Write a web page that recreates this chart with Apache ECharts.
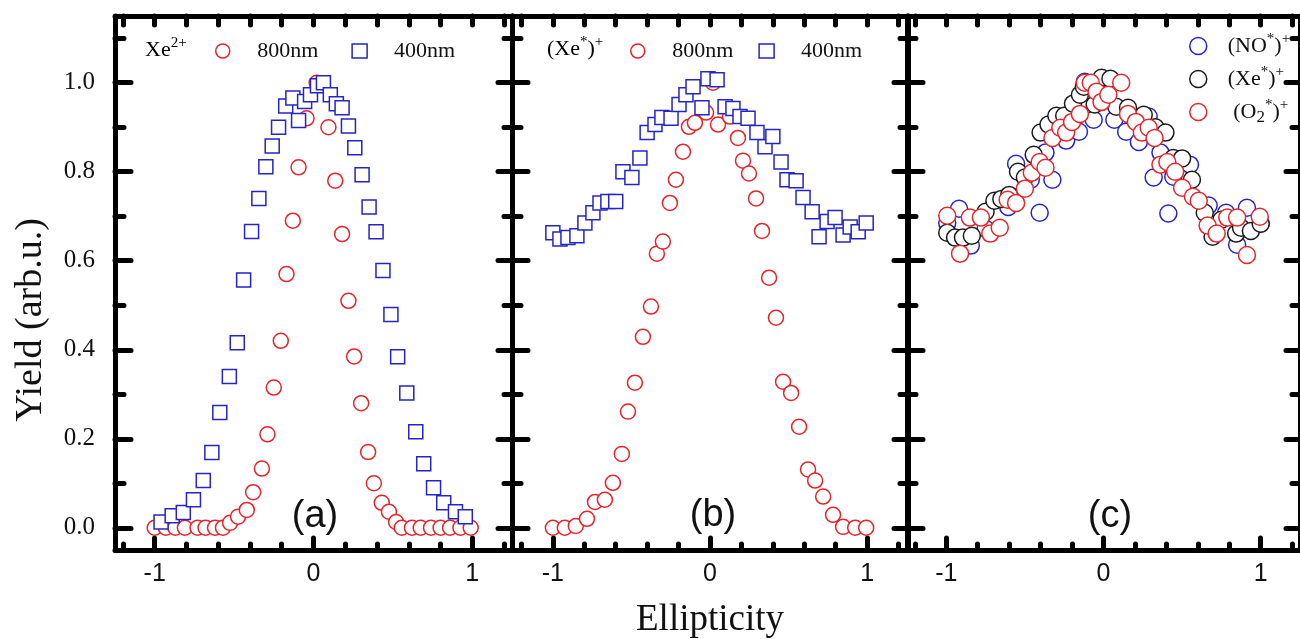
<!DOCTYPE html>
<html>
<head>
<meta charset="utf-8">
<title>Yield vs ellipticity</title>
<script src="https://cdn.jsdelivr.net/npm/echarts@6/dist/echarts.min.js"></script>
<style>
    html, body { margin: 0; padding: 0; background: #fff; }
    #chart { width: 1300px; height: 639px; }
</style>
</head>
<body>
<div id="chart"></div>
<script>
    // tick values
    var xMajorTicks = [-1, 0, 1];
    var xMinorTicks = [-1.2, -0.8, -0.6, -0.4, -0.2, 0.2, 0.4, 0.6, 0.8, 1.2];
    var xTopTicks = [-1.2, -1, -0.8, -0.6, -0.4, -0.2, 0, 0.2, 0.4, 0.6, 0.8, 1, 1.2];
    var yMajorTicks = [0, 0.2, 0.4, 0.6, 0.8, 1.0];
    var yMinorTicks = [0.1, 0.3, 0.5, 0.7, 0.9, 1.1];

    // (a) Xe2+
    var aRed800 = [[-1.0, 0], [-0.93, 0], [-0.87, 0], [-0.81, 0], [-0.73, 0], [-0.68, 0], [-0.62, 0], [-0.57, 0],
        [-0.525, 0.011], [-0.475, 0.025], [-0.42, 0.04], [-0.38, 0.08], [-0.325, 0.133], [-0.29, 0.21],
        [-0.25, 0.315], [-0.206, 0.42], [-0.17, 0.57], [-0.13, 0.69], [-0.094, 0.81], [-0.044, 0.92],
        [0.02, 1.0], [0.094, 0.90], [0.137, 0.78], [0.18, 0.66], [0.22, 0.51], [0.256, 0.385], [0.30, 0.28],
        [0.344, 0.17], [0.38, 0.10], [0.43, 0.056], [0.475, 0.036], [0.52, 0.013], [0.556, 0], [0.62, 0],
        [0.675, 0], [0.74, 0], [0.80, 0], [0.86, 0], [0.925, 0], [0.99, 0]];
    var aBlue400 = [[-0.96, 0.013], [-0.89, 0.027], [-0.82, 0.034], [-0.756, 0.063], [-0.694, 0.106],
        [-0.64, 0.169], [-0.59, 0.259], [-0.53, 0.34], [-0.48, 0.416], [-0.44, 0.557], [-0.39, 0.666],
        [-0.344, 0.74], [-0.30, 0.811], [-0.26, 0.858], [-0.22, 0.90], [-0.175, 0.948], [-0.13, 0.966],
        [-0.094, 0.915], [-0.056, 0.958], [-0.019, 0.973], [0.025, 0.993], [0.0625, 1.0], [0.106, 0.973],
        [0.144, 0.953], [0.18, 0.944], [0.22, 0.903], [0.26, 0.854], [0.306, 0.793], [0.35, 0.721],
        [0.394, 0.665], [0.4375, 0.578], [0.4875, 0.479], [0.53, 0.384], [0.5875, 0.303], [0.644, 0.216],
        [0.694, 0.144], [0.756, 0.09], [0.82, 0.056], [0.894, 0.036], [0.956, 0.025]];

    // (b) (Xe*)+
    var bRed800 = [[-1.0, 0], [-0.924, 0], [-0.854, 0.004], [-0.783, 0.02], [-0.732, 0.058], [-0.669, 0.063],
        [-0.618, 0.101], [-0.561, 0.166], [-0.522, 0.261], [-0.478, 0.326], [-0.427, 0.429], [-0.376, 0.497],
        [-0.338, 0.616], [-0.30, 0.643], [-0.255, 0.73], [-0.217, 0.782], [-0.172, 0.845], [-0.134, 0.901],
        [-0.096, 0.91], [-0.025, 0.933], [0.019, 1.0], [0.051, 0.906], [0.127, 0.924], [0.178, 0.876],
        [0.21, 0.825], [0.248, 0.796], [0.293, 0.74], [0.331, 0.667], [0.376, 0.562], [0.42, 0.472],
        [0.465, 0.328], [0.516, 0.303], [0.567, 0.227], [0.624, 0.131], [0.669, 0.106], [0.72, 0.07],
        [0.783, 0.029], [0.847, 0.002], [0.924, 0], [0.994, 0]];
    var bBlue400 = [[-1.0, 0.663], [-0.955, 0.649], [-0.904, 0.652], [-0.847, 0.656], [-0.796, 0.685],
        [-0.745, 0.708], [-0.70, 0.73], [-0.65, 0.733], [-0.60, 0.733], [-0.554, 0.80], [-0.497, 0.787],
        [-0.446, 0.831], [-0.40, 0.888], [-0.35, 0.906], [-0.306, 0.922], [-0.248, 0.92], [-0.197, 0.951],
        [-0.153, 0.973], [-0.108, 0.991], [-0.051, 0.944], [-0.013, 1.009], [0.045, 1.007], [0.096, 0.946],
        [0.146, 0.942], [0.191, 0.924], [0.242, 0.92], [0.299, 0.888], [0.35, 0.856], [0.40, 0.879],
        [0.452, 0.822], [0.49, 0.782], [0.548, 0.78], [0.592, 0.742], [0.65, 0.71], [0.694, 0.654],
        [0.745, 0.688], [0.796, 0.697], [0.847, 0.658], [0.892, 0.676], [0.943, 0.665], [0.994, 0.685]];

    // (c)
    var cNO = [[-0.994, 0.685], [-0.919, 0.717], [-0.844, 0.634], [-0.75, 0.672], [-0.606, 0.721],
        [-0.556, 0.818], [-0.4625, 0.782], [-0.406, 0.708], [-0.369, 0.843], [-0.325, 0.782], [-0.2375, 0.87],
        [-0.156, 0.89], [-0.119, 1.002], [-0.0625, 0.917], [0.069, 0.917], [0.144, 0.89], [0.225, 0.867],
        [0.2875, 0.924], [0.319, 0.787], [0.3625, 0.843], [0.4125, 0.706], [0.444, 0.789], [0.55, 0.816],
        [0.669, 0.724], [0.78, 0.708], [0.85, 0.636], [0.9125, 0.719], [1.0, 0.683]];
    var cXe = [[-0.994, 0.663], [-0.944, 0.652], [-0.894, 0.652], [-0.8375, 0.656], [-0.75, 0.71],
        [-0.694, 0.735], [-0.65, 0.739], [-0.6, 0.748], [-0.544, 0.80], [-0.50, 0.787], [-0.444, 0.838],
        [-0.40, 0.888], [-0.35, 0.906], [-0.30, 0.926], [-0.25, 0.926], [-0.194, 0.953], [-0.15, 0.973],
        [-0.125, 0.991], [-0.056, 0.951], [-0.0125, 1.011], [0.044, 1.009], [0.081, 0.946], [0.156, 0.944],
        [0.206, 0.92], [0.256, 0.928], [0.33, 0.9], [0.394, 0.888], [0.444, 0.831], [0.5, 0.83],
        [0.5625, 0.782], [0.644, 0.708], [0.694, 0.654], [0.75, 0.692], [0.844, 0.661], [0.875, 0.674],
        [0.9375, 0.667], [1.0, 0.683]];
    var cO2 = [[-0.994, 0.701], [-0.9125, 0.616], [-0.85, 0.697], [-0.78, 0.697], [-0.72, 0.661],
        [-0.66, 0.674], [-0.61, 0.737], [-0.556, 0.730], [-0.50, 0.762], [-0.456, 0.798], [-0.406, 0.822],
        [-0.369, 0.809], [-0.325, 0.876], [-0.275, 0.899], [-0.2375, 0.888], [-0.20, 0.912], [-0.15, 0.930],
        [-0.119, 1.0], [-0.081, 1.0], [-0.044, 0.98], [-0.0125, 0.957], [0.031, 0.973], [0.1125, 1.0],
        [0.156, 0.93], [0.206, 0.912], [0.244, 0.888], [0.2875, 0.899], [0.325, 0.876], [0.3625, 0.816],
        [0.406, 0.822], [0.456, 0.80], [0.50, 0.764], [0.569, 0.744], [0.606, 0.735], [0.6625, 0.679],
        [0.72, 0.661], [0.7875, 0.697], [0.85, 0.697], [0.9125, 0.613], [0.994, 0.699]];

    var RED = '#e5242b';
    var BLUE = '#2424c8';
    var BLACK = '#1a1a1a';
    var SERIF = '"Liberation Serif", "DejaVu Serif", serif';
    var SANS = '"Liberation Sans", Arial, sans-serif';

    var chart = echarts.init(document.getElementById('chart'));

    var panels = [
        {left: 115, width: 397, min: -1.25, max: 1.25, labels: true},
        {left: 512, width: 396, min: -1.26, max: 1.26, labels: false},
        {left: 907, width: 400, min: -1.25, max: 1.25, labels: false}
    ];

    function ticks(len, values) {
        return {
            show: true, inside: true, length: len, customValues: values,
            lineStyle: {color: '#000', width: 5, cap: 'round'}
        };
    }

    var grids = [], xAxes = [], yAxes = [];
    panels.forEach(function (p, i) {
        grids.push({left: p.left, top: 16, width: p.width, height: 534});
        var xBase = {
            type: 'value', gridIndex: i, min: p.min, max: p.max,
            splitLine: {show: false}, axisLabel: {show: false}
        };
        xAxes.push(Object.assign({}, xBase, {
            position: 'bottom',
            axisLine: {show: true, onZero: false, lineStyle: {color: '#000', width: 5}},
            axisTick: ticks(12, xMajorTicks),
            axisLabel: {
                show: true, customValues: xMajorTicks, margin: 12,
                fontFamily: SANS, fontSize: 25, color: '#111'
            }
        }));
        xAxes.push(Object.assign({}, xBase, {
            position: 'bottom',
            axisLine: {show: false, onZero: false},
            axisTick: ticks(6, xMinorTicks)
        }));
        xAxes.push(Object.assign({}, xBase, {
            position: 'top',
            axisLine: {show: true, onZero: false, lineStyle: {color: '#000', width: 5}},
            axisTick: ticks(9, xTopTicks)
        }));

        var yBase = {
            type: 'value', gridIndex: i, min: -0.05, max: 1.15,
            splitLine: {show: false}, axisLabel: {show: false}
        };
        yAxes.push(Object.assign({}, yBase, {
            position: 'left',
            axisLine: {show: true, onZero: false, lineStyle: {color: '#000', width: 5}},
            axisTick: ticks(16, yMajorTicks),
            axisLabel: {
                show: p.labels, customValues: yMajorTicks, margin: 20,
                fontFamily: SERIF, fontSize: 25, color: '#111',
                formatter: function (v) { return v.toFixed(1); }
            }
        }));
        yAxes.push(Object.assign({}, yBase, {
            position: 'left',
            axisLine: {show: false, onZero: false},
            axisTick: ticks(9, yMinorTicks)
        }));
        yAxes.push(Object.assign({}, yBase, {
            position: 'right',
            axisLine: {show: true, onZero: false, lineStyle: {color: '#000', width: 5}},
            axisTick: ticks(14, yMajorTicks)
        }));
        yAxes.push(Object.assign({}, yBase, {
            position: 'right',
            axisLine: {show: false, onZero: false},
            axisTick: ticks(8, yMinorTicks)
        }));
    });

    function scatter(name, panel, data, symbol, size, color) {
        return {
            name: name, type: 'scatter',
            xAxisIndex: panel * 3, yAxisIndex: panel * 4,
            data: data, symbol: symbol, symbolSize: size,
            itemStyle: {color: '#fff', borderColor: color, borderWidth: 1.5, opacity: 1},
            emphasis: {disabled: true},
            silent: true
        };
    }

    var legendNames = {
        a800: '800nm', a400: '400nm', b800: '800nm', b400: '400nm',
        cNO: '{t|(NO}{sup|*}{t|)}{sup|+}',
        cXe: '{t|(Xe}{sup|*}{t|)}{sup|+}',
        cO2: '{t| (O}{sub|2}{sup|*}{t|)}{sup|+}'
    };

    var richText = {
        t: {fontFamily: SERIF, fontSize: 22, lineHeight: 28, color: '#111'},
        sup: {fontFamily: SERIF, fontSize: 15, lineHeight: 15, verticalAlign: 'top', color: '#111'},
        sub: {fontFamily: SERIF, fontSize: 17, lineHeight: 22, verticalAlign: 'bottom', color: '#111'}
    };

    function legendItem(name, icon, color) {
        return {name: name, icon: icon, itemStyle: {color: '#fff', borderColor: color, borderWidth: 1.5}};
    }

    var legendText = {
        fontFamily: SERIF, fontSize: 22, color: '#111',
        padding: [0, 0, 0, 22], rich: richText
    };

    var option = {
        backgroundColor: '#fff',
        animation: false,
        grid: grids,
        xAxis: xAxes,
        yAxis: yAxes,
        legend: [
            {
                left: 210, top: 35, itemWidth: 15, itemHeight: 14, itemGap: 33,
                selectedMode: false, textStyle: legendText,
                data: [legendItem('a800', 'circle', RED), legendItem('a400', 'rect', BLUE)],
                formatter: function (n) { return legendNames[n]; }
            },
            {
                left: 625, top: 35, itemWidth: 15, itemHeight: 14, itemGap: 25,
                selectedMode: false, textStyle: legendText,
                data: [legendItem('b800', 'circle', RED), legendItem('b400', 'rect', BLUE)],
                formatter: function (n) { return legendNames[n]; }
            },
            {
                left: 1184, top: 27, orient: 'vertical', itemWidth: 17, itemHeight: 17, itemGap: 8,
                selectedMode: false,
                textStyle: {fontFamily: SERIF, fontSize: 22, color: '#111', padding: [0, 0, 0, 16], rich: richText},
                data: [legendItem('cNO', 'circle', BLUE), legendItem('cXe', 'circle', BLACK), legendItem('cO2', 'circle', RED)],
                formatter: function (n) { return legendNames[n]; }
            }
        ],
        graphic: [
            {
                type: 'text', left: 145, top: 36,
                style: {text: '{t|Xe}{sup|2+}', rich: richText}
            },
            {
                type: 'text', left: 547, top: 35,
                style: {text: '{t|(Xe}{sup|*}{t|)}{sup|+}', rich: richText}
            },
            {
                type: 'text', x: 315, y: 517,
                style: {text: '(a)', font: '38px ' + SANS, fill: '#111', align: 'center', verticalAlign: 'middle',
                    textAlign: 'center', textVerticalAlign: 'middle'}
            },
            {
                type: 'text', x: 713, y: 516,
                style: {text: '(b)', font: '38px ' + SANS, fill: '#111', align: 'center', verticalAlign: 'middle',
                    textAlign: 'center', textVerticalAlign: 'middle'}
            },
            {
                type: 'text', x: 1110, y: 517,
                style: {text: '(c)', font: '38px ' + SANS, fill: '#111', align: 'center', verticalAlign: 'middle',
                    textAlign: 'center', textVerticalAlign: 'middle'}
            },
            {
                type: 'text', x: 710, y: 620,
                style: {text: 'Ellipticity', font: '37px ' + SERIF, fill: '#111', align: 'center', verticalAlign: 'middle',
                    textAlign: 'center', textVerticalAlign: 'middle'}
            },
            {
                type: 'text', x: 31, y: 320, rotation: Math.PI / 2,
                style: {text: 'Yield (arb.u.)', font: '38px ' + SERIF, fill: '#111', align: 'center', verticalAlign: 'middle',
                    textAlign: 'center', textVerticalAlign: 'middle'}
            }
        ],
        series: [
            scatter('a800', 0, aRed800, 'circle', 15, RED),
            scatter('a400', 0, aBlue400, 'rect', 14, BLUE),
            scatter('b800', 1, bRed800, 'circle', 15, RED),
            scatter('b400', 1, bBlue400, 'rect', 14, BLUE),
            scatter('cNO', 2, cNO, 'circle', 17, BLUE),
            scatter('cXe', 2, cXe, 'circle', 17, BLACK),
            scatter('cO2', 2, cO2, 'circle', 17, RED)
        ]
    };

    chart.setOption(option);
</script>
</body>
</html>
